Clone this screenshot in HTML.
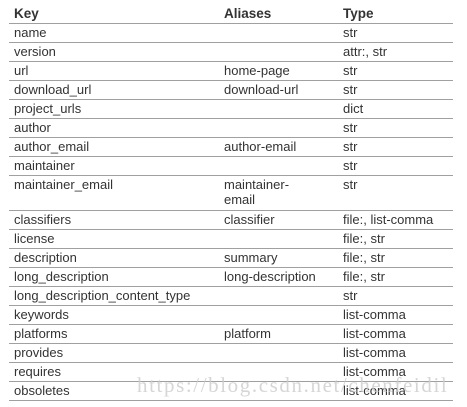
<!DOCTYPE html>
<html><head><meta charset="utf-8"><style>
body{margin:0;width:467px;height:407px;background:#fff;overflow:hidden;position:relative;font-family:"Liberation Sans",Arial,sans-serif;font-size:13px;color:#333}
.r{position:absolute;left:9px;width:444px;border-bottom:1px solid #a0a0a0;box-sizing:border-box}
.r span{position:absolute;top:2px;line-height:15px}
.k{left:5px}.a{left:215px}.t{left:334px}
.h span{font-weight:bold;font-size:13.5px}
.wm{position:absolute;left:137px;top:373px;font-family:"Liberation Serif",serif;font-size:21px;color:#ccc;letter-spacing:1.6px;opacity:.8;white-space:nowrap}
</style></head><body>
<div class="r h" style="top:4px;height:20px"><span class="k">Key</span><span class="a">Aliases</span><span class="t">Type</span></div>
<div class="r" style="top:23px;height:20px"><span class="k">name</span><span class="t">str</span></div>
<div class="r" style="top:42px;height:20px"><span class="k">version</span><span class="t">attr:, str</span></div>
<div class="r" style="top:61px;height:20px"><span class="k">url</span><span class="a">home-page</span><span class="t">str</span></div>
<div class="r" style="top:80px;height:20px"><span class="k">download_url</span><span class="a">download-url</span><span class="t">str</span></div>
<div class="r" style="top:99px;height:20px"><span class="k">project_urls</span><span class="t">dict</span></div>
<div class="r" style="top:118px;height:20px"><span class="k">author</span><span class="t">str</span></div>
<div class="r" style="top:137px;height:20px"><span class="k">author_email</span><span class="a">author-email</span><span class="t">str</span></div>
<div class="r" style="top:156px;height:20px"><span class="k">maintainer</span><span class="t">str</span></div>
<div class="r" style="top:175px;height:36px"><span class="k">maintainer_email</span><span class="a">maintainer-<br>email</span><span class="t">str</span></div>
<div class="r" style="top:210px;height:20px"><span class="k">classifiers</span><span class="a">classifier</span><span class="t">file:, list-comma</span></div>
<div class="r" style="top:229px;height:20px"><span class="k">license</span><span class="t">file:, str</span></div>
<div class="r" style="top:248px;height:20px"><span class="k">description</span><span class="a">summary</span><span class="t">file:, str</span></div>
<div class="r" style="top:267px;height:20px"><span class="k">long_description</span><span class="a">long-description</span><span class="t">file:, str</span></div>
<div class="r" style="top:286px;height:20px"><span class="k">long_description_content_type</span><span class="t">str</span></div>
<div class="r" style="top:305px;height:20px"><span class="k">keywords</span><span class="t">list-comma</span></div>
<div class="r" style="top:324px;height:20px"><span class="k">platforms</span><span class="a">platform</span><span class="t">list-comma</span></div>
<div class="r" style="top:343px;height:20px"><span class="k">provides</span><span class="t">list-comma</span></div>
<div class="r" style="top:362px;height:20px"><span class="k">requires</span><span class="t">list-comma</span></div>
<div class="r" style="top:381px;height:20px"><span class="k">obsoletes</span><span class="t">list-comma</span></div>
<div class="wm">https://blog.csdn.net/chenfeidil</div>
</body></html>
